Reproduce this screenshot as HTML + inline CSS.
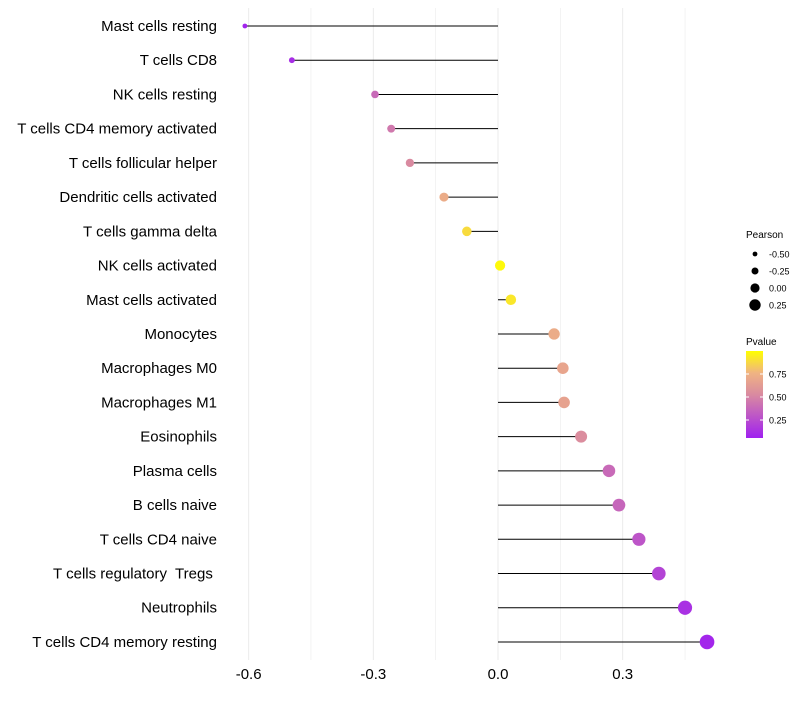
<!DOCTYPE html>
<html><head><meta charset="utf-8"><style>
body{margin:0;background:#fff;}
svg text{font-family:"Liberation Sans",sans-serif;white-space:pre;}
</style></head><body>
<svg id="chart" width="800" height="700"></svg>
<script>
const categories=["Mast cells resting","T cells CD8","NK cells resting","T cells CD4 memory activated","T cells follicular helper","Dendritic cells activated","T cells gamma delta","NK cells activated","Mast cells activated","Monocytes","Macrophages M0","Macrophages M1","Eosinophils","Plasma cells","B cells naive","T cells CD4 naive","T cells regulatory  Tregs ","Neutrophils","T cells CD4 memory resting"];
const pearson=[-0.609,-0.496,-0.296,-0.257,-0.212,-0.130,-0.075,0.005,0.031,0.135,0.156,0.159,0.200,0.267,0.291,0.339,0.387,0.450,0.503];
const pvalue=[0.02,0.06,0.35,0.42,0.5,0.7,0.88,0.98,0.92,0.7,0.66,0.64,0.52,0.35,0.33,0.25,0.17,0.08,0.03];
const xTicks=[-0.6,-0.3,0.0,0.3];
const xTickLabels=["-0.6","-0.3","0.0","0.3"];
const legendPearson=[-0.5,-0.25,0,0.25];
const legendP=[0.75,0.5,0.25];

const NS="http://www.w3.org/2000/svg";
const svg=document.getElementById('chart');
function mk(t,a,p){const e=document.createElementNS(NS,t);for(const k in a)e.setAttribute(k,a[k]);(p||svg).appendChild(e);return e;}
const X=v=>498+v*415.6;
const Y=i=>26+i*34.22;
const R=v=>Math.max(1.8,5.1+4.4*v);
function col(p){
  const stops=[[0,[160,32,240]],[0.5,[217,138,160]],[0.75,[240,180,130]],[1,[255,255,0]]];
  for(let i=1;i<stops.length;i++){if(p<=stops[i][0]){const a=stops[i-1],b=stops[i];const t=(p-a[0])/(b[0]-a[0]);return 'rgb('+a[1].map((c,j)=>Math.round(c+(b[1][j]-c)*t)).join(',')+')';}}
  return 'rgb(255,255,0)';
}
[-0.6,-0.45,-0.3,-0.15,0,0.15,0.3,0.45].forEach((v,i)=>{
  const g=mk('line',{x1:X(v),x2:X(v),y1:8,y2:660,stroke:'#ebebeb','stroke-width':i%2?0.6:1});
  
  
});
xTicks.forEach((v,i)=>{
  const t=mk('text',{x:X(v),y:679,'text-anchor':'middle','font-size':15,fill:'#000'});
  t.textContent=xTickLabels[i];
  
  
});
categories.forEach((c,i)=>{
  const t=mk('text',{x:217,y:Y(i)+5,'text-anchor':'end','font-size':15,fill:'#000'});
  t.textContent=c;
  
  
  const l=mk('line',{x1:X(0),x2:X(pearson[i]),y1:Y(i),y2:Y(i),stroke:'#000','stroke-width':1});
  
  
  const d=mk('circle',{cx:X(pearson[i]),cy:Y(i),r:R(pearson[i]),fill:col(pvalue[i])});
  
  
});
let t=mk('text',{x:746,y:238,'font-size':10});t.textContent='Pearson';


legendPearson.forEach((v,i)=>{
  const y=254+i*17;
  const c=mk('circle',{cx:755,cy:y,r:R(v)-0.5,fill:'#000'});
  
  
  const tt=mk('text',{x:769,y:y+3.5,'font-size':9});tt.textContent=v.toFixed(2);
  
  
});
t=mk('text',{x:746,y:345,'font-size':10});t.textContent='Pvalue';


const defs=mk('defs',{});
const gr=mk('linearGradient',{id:'pg',x1:0,y1:1,x2:0,y2:0},defs);
[0,0.5,0.75,1].forEach(o=>mk('stop',{offset:o,'stop-color':col(o)},gr));
const bar=mk('rect',{x:746,y:351,width:17,height:87,fill:'url(#pg)'});


const PY=p=>351+(1-p)*92;
legendP.forEach(p=>{
  mk('line',{x1:746,x2:749,y1:PY(p),y2:PY(p),stroke:'#fff'});
  mk('line',{x1:760,x2:763,y1:PY(p),y2:PY(p),stroke:'#fff'});
  const tt=mk('text',{x:769,y:PY(p)+3.5,'font-size':9});tt.textContent=p.toFixed(2);
  
  
});
</script>
</body></html>
